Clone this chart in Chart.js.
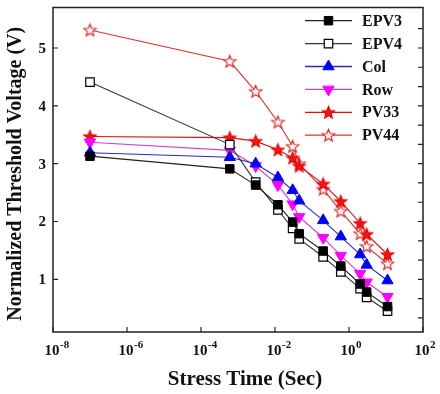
<!DOCTYPE html>
<html>
<head>
<meta charset="utf-8">
<script src="https://cdn.jsdelivr.net/npm/chart.js@4/dist/chart.umd.min.js"></script>
<style>
  html, body { margin: 0; padding: 0; background: #fff; }
  #wrap { width: 440px; height: 394px; }
</style>
</head>
<body>
<div id="wrap"><canvas id="chart" width="440" height="394"></canvas></div>
<script>
// Stress time (sec) for each measured point
const stressTime = [1e-7, 6e-4, 3e-3, 0.012, 0.03, 0.045, 0.2, 0.6, 2, 3, 11];

// Normalized threshold voltage (V)
const epv3 = [3.13, 2.91, 2.63, 2.29, 1.99, 1.79, 1.49, 1.23, 0.92, 0.78, 0.53];
const epv4 = [4.41, 3.33, 2.68, 2.20, 1.88, 1.70, 1.39, 1.13, 0.84, 0.69, 0.45];
const col = [3.19, 3.11, 3.00, 2.76, 2.54, 2.36, 2.02, 1.74, 1.43, 1.25, 0.98];
const row = [3.37, 3.23, 2.96, 2.63, 2.30, 2.08, 1.72, 1.41, 1.10, 0.95, 0.70];
const pv33 = [3.47, 3.45, 3.39, 3.24, 3.10, 2.96, 2.65, 2.35, 1.97, 1.78, 1.43];
const pv44 = [5.31, 4.77, 4.25, 3.72, 3.30, 3.00, 2.56, 2.18, 1.79, 1.57, 1.27];

const seriesNames = ["EPV3", "EPV4", "Col", "Row", "PV33", "PV44"];

// Tick values
const xTicks = [1e-8, 1e-6, 1e-4, 1e-2, 1e0, 1e2];
const yTicks = [1, 2, 3, 4, 5];
const yRightTicks = [1 / 3, 2 / 3, 1, 4 / 3, 5 / 3, 2, 7 / 3, 8 / 3, 3, 10 / 3, 11 / 3, 4, 13 / 3, 14 / 3, 5, 16 / 3];

const serif = "'Liberation Serif', 'DejaVu Serif', serif";

// five-pointed star marker drawn onto a small canvas
function starImage(fill, stroke, r) {
  const c = document.createElement("canvas");
  const s = Math.ceil(r * 2 + 4);
  c.width = s;
  c.height = s;
  const g = c.getContext("2d");
  g.beginPath();
  for (let i = 0; i < 10; i++) {
    const rr = i % 2 === 0 ? r : r * 0.42;
    const a = -Math.PI / 2 + (i * Math.PI) / 5;
    const px = s / 2 + rr * Math.cos(a);
    const py = s / 2 + rr * Math.sin(a) + 0.5;
    if (i === 0) g.moveTo(px, py);
    else g.lineTo(px, py);
  }
  g.closePath();
  g.fillStyle = fill;
  g.fill();
  g.strokeStyle = stroke;
  g.lineWidth = 1.1;
  g.stroke();
  return c;
}

const filledStar = starImage("#ff1010", "#e00000", 6.5);
const openStar = starImage("#ffffff", "#e02020", 6.5);

function toPoints(values) {
  return stressTime.map((t, i) => ({ x: t, y: values[i] }));
}

const datasets = [
  {
    label: seriesNames[0], data: toPoints(epv3),
    borderColor: "#222", backgroundColor: "#000",
    pointStyle: "rect", pointRadius: 6, pointBorderColor: "#000", pointBorderWidth: 1,
  },
  {
    label: seriesNames[1], data: toPoints(epv4),
    borderColor: "#333", backgroundColor: "#fff",
    pointStyle: "rect", pointRadius: 6, pointBorderColor: "#000", pointBorderWidth: 1.2,
  },
  {
    label: seriesNames[2], data: toPoints(col),
    borderColor: "#2a2ad0", backgroundColor: "#0000ff",
    pointStyle: "triangle", pointRadius: 6.5, pointBorderColor: "#0000ff", pointBorderWidth: 1,
  },
  {
    label: seriesNames[3], data: toPoints(row),
    borderColor: "#d040d0", backgroundColor: "#ff00ff",
    pointStyle: "triangle", pointRotation: 180, pointRadius: 6.5, pointBorderColor: "#ff00ff", pointBorderWidth: 1,
  },
  {
    label: seriesNames[4], data: toPoints(pv33),
    borderColor: "#e01010", backgroundColor: "#ff0000",
    pointStyle: filledStar,
  },
  {
    label: seriesNames[5], data: toPoints(pv44),
    borderColor: "#e83030", backgroundColor: "#fff",
    pointStyle: openStar,
  },
];

// frame, inward ticks, tick labels, axis titles and the inset legend
const decorations = {
  id: "decorations",
  afterDraw(chart) {
    const { ctx, chartArea: a, scales } = chart;
    const x = scales.x;
    const y = scales.y;
    ctx.save();

    ctx.strokeStyle = "#222";
    ctx.lineWidth = 1.5;
    ctx.strokeRect(a.left, a.top, a.right - a.left, a.bottom - a.top);

    ctx.lineWidth = 1.2;
    ctx.beginPath();
    xTicks.forEach((v) => {
      const px = x.getPixelForValue(v);
      ctx.moveTo(px, a.bottom);
      ctx.lineTo(px, a.bottom - 5);
    });
    yTicks.forEach((v) => {
      const py = y.getPixelForValue(v);
      ctx.moveTo(a.left, py);
      ctx.lineTo(a.left + 5, py);
    });
    yRightTicks.forEach((v) => {
      const py = y.getPixelForValue(v);
      ctx.moveTo(a.right, py);
      ctx.lineTo(a.right - 5, py);
    });
    ctx.stroke();

    ctx.fillStyle = "#111";

    // y tick labels
    ctx.font = "bold 15px " + serif;
    ctx.textAlign = "right";
    ctx.textBaseline = "middle";
    yTicks.forEach((v) => {
      ctx.fillText(String(v), a.left - 7, y.getPixelForValue(v) + 1);
    });

    // x tick labels as 10 with superscript exponent
    ctx.textBaseline = "alphabetic";
    xTicks.forEach((v) => {
      const px = x.getPixelForValue(v);
      const exp = String(Math.round(Math.log10(v)));
      ctx.font = "bold 15px " + serif;
      ctx.textAlign = "center";
      ctx.fillText("10", px - 1, 355);
      const w = ctx.measureText("10").width;
      ctx.font = "bold 11px " + serif;
      ctx.textAlign = "left";
      ctx.fillText(exp, px - 1 + w / 2 + 0.5, 348);
    });

    // axis titles
    ctx.font = "bold 21px " + serif;
    ctx.textAlign = "center";
    ctx.fillText("Stress Time (Sec)", 245, 385);

    ctx.save();
    ctx.translate(21, (a.top + a.bottom) / 2 + 4);
    ctx.rotate(-Math.PI / 2);
    ctx.font = "bold 20px " + serif;
    ctx.fillText("Normalized Threshold Voltage (V)", 0, 0);
    ctx.restore();

    // legend
    const x0 = a.right - 118;
    const x1 = a.right - 71;
    const xm = (x0 + x1) / 2;
    chart.data.datasets.forEach((ds, i) => {
      const ly = 20.7 + i * 22.9;
      ctx.strokeStyle = ds.borderColor;
      ctx.lineWidth = 1.3;
      ctx.beginPath();
      ctx.moveTo(x0, ly);
      ctx.lineTo(x1, ly);
      ctx.stroke();
      ctx.fillStyle = ds.backgroundColor;
      ctx.strokeStyle = ds.pointBorderColor || ds.borderColor;
      ctx.lineWidth = ds.pointBorderWidth || 1;
      Chart.helpers.drawPoint(ctx, {
        pointStyle: ds.pointStyle,
        radius: ds.pointRadius || 6,
        rotation: ds.pointRotation || 0,
        borderWidth: ds.pointBorderWidth || 1,
      }, xm, ly);
      ctx.fillStyle = "#111";
      ctx.font = "bold 16px " + serif;
      ctx.textAlign = "left";
      ctx.textBaseline = "middle";
      ctx.fillText(ds.label, a.right - 61, ly + 1);
    });

    ctx.restore();
  },
};

new Chart(document.getElementById("chart"), {
  type: "line",
  data: { datasets: datasets },
  options: {
    responsive: false,
    animation: false,
    layout: { padding: { top: 5, right: 17, left: 0, bottom: 0 } },
    elements: {
      line: { borderWidth: 1.1, tension: 0, fill: false },
      point: { radius: 6, hoverRadius: 6 },
    },
    plugins: {
      legend: { display: false },
      tooltip: { enabled: false },
    },
    scales: {
      x: {
        type: "logarithmic",
        min: 1e-8,
        max: 1e2,
        grid: { display: false },
        border: { display: false },
        ticks: { display: false },
        afterBuildTicks: (axis) => {
          axis.ticks = xTicks.map((v) => ({ value: v }));
        },
        afterFit: (scale) => {
          scale.height = 62;
        },
      },
      y: {
        min: 0.09,
        max: 5.7,
        grid: { display: false },
        border: { display: false },
        ticks: { display: false },
        afterBuildTicks: (axis) => {
          axis.ticks = yTicks.map((v) => ({ value: v }));
        },
        afterFit: (scale) => {
          scale.width = 53;
        },
      },
    },
  },
  plugins: [decorations],
});
</script>
</body>
</html>
